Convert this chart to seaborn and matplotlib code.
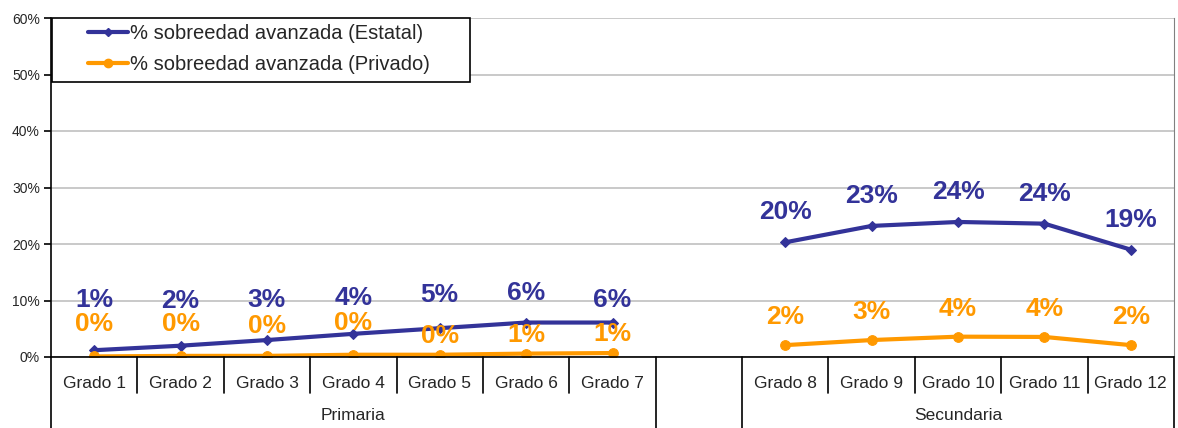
import pandas as pd
import matplotlib.pyplot as plt
import matplotlib.transforms as mtransforms
from matplotlib.lines import Line2D
from matplotlib.patches import Rectangle
import seaborn as sns

# --------------------------
# Data
# --------------------------
grados = ["Grado 1", "Grado 2", "Grado 3", "Grado 4", "Grado 5", "Grado 6", "Grado 7",
          "", "Grado 8", "Grado 9", "Grado 10", "Grado 11", "Grado 12"]
nivel = ["Primaria"] * 7 + [""] + ["Secundaria"] * 5
estatal = [1.2, 2.0, 3.0, 4.1, 5.1, 6.1, 6.1, None, 20.3, 23.2, 23.9, 23.6, 19.0]
privado = [0.1, 0.2, 0.2, 0.4, 0.4, 0.6, 0.7, None, 2.1, 3.0, 3.6, 3.55, 2.1]
series = {"% sobreedad avanzada (Estatal)": estatal,
          "% sobreedad avanzada (Privado)": privado}

rows = []
for name, vals in series.items():
    for i, v in enumerate(vals):
        if v is not None:
            rows.append({"pos": i, "grado": grados[i], "nivel": nivel[i], "serie": name, "valor": v})
df = pd.DataFrame(rows)

# --------------------------
# Style
# --------------------------
sns.set_style("white")
plt.rcParams["font.family"] = ["Liberation Sans", "DejaVu Sans"]

colors = {"% sobreedad avanzada (Estatal)": "#333399",
          "% sobreedad avanzada (Privado)": "#FF9900"}
markers = {"% sobreedad avanzada (Estatal)": ("D", 5),
           "% sobreedad avanzada (Privado)": ("o", 7)}
# label offsets above the point (pixels), placed by hand like the original
label_dy = {"% sobreedad avanzada (Estatal)": [50, 45, 40, 36, 33, 30, 23, 0, 30, 30, 30, 30, 30],
            "% sobreedad avanzada (Privado)": [32, 32, 30, 32, 19, 19, 19, 0, 28, 28, 28, 28, 28]}

fig = plt.figure(figsize=(11.78, 4.28), dpi=100)
ax = fig.add_axes([51 / 1178, (428 - 357) / 428, (1174 - 51) / 1178, (357 - 18) / 428])

for name in series:
    for lvl in ["Primaria", "Secundaria"]:
        sub = df[(df["serie"] == name) & (df["nivel"] == lvl)]
        m, ms = markers[name]
        sns.lineplot(data=sub, x="pos", y="valor", ax=ax, color=colors[name], lw=3,
                     marker=m, markersize=ms, markeredgecolor=colors[name], legend=False)
    for i, v in enumerate(series[name]):
        if v is None:
            continue
        ax.annotate(f"{v:.0f}%", (i, v), xytext=(0, label_dy[name][i] * 0.72),
                    textcoords="offset points", ha="center", va="center",
                    fontsize=19, fontweight="bold", color=colors[name])

ax.set_xlim(-0.5, len(grados) - 0.5)
ax.set_ylim(0, 60)
ax.set_yticks(range(0, 61, 10))
ax.set_yticklabels([f"{t}%" for t in range(0, 61, 10)], fontsize=10)
ax.yaxis.grid(True, color="#c0c0c0", lw=1.2)
ax.set_axisbelow(True)
ax.tick_params(axis="y", left=True, length=5, width=1.2, color="black", pad=3)
ax.set_xticks(range(len(grados)))
ax.set_xticklabels(grados, fontsize=12.5)
ax.tick_params(axis="x", length=0, pad=14)
ax.set_xlabel("")
ax.set_ylabel("")

ax.spines["top"].set_visible(False)
ax.spines["left"].set_color("black")
ax.spines["left"].set_linewidth(1.2)
ax.spines["bottom"].set_color("black")
ax.spines["bottom"].set_linewidth(1.2)
ax.spines["right"].set_color("#808080")

# category dividers below the axis
trans = mtransforms.blended_transform_factory(ax.transData, ax.transAxes)
inner_y = -(393 - 357) / 339
outer_y = -(428 - 357) / 339
for b in [i - 0.5 for i in range(len(grados) + 1)]:
    left_name = nivel[int(b - 0.5)] if b > 0 else None
    right_name = nivel[int(b + 0.5)] if b < len(grados) - 1 else None
    y_end = inner_y if left_name == right_name else outer_y
    ax.plot([b, b], [0, y_end], color="black", lw=1.2, transform=trans, clip_on=False)

for lvl in ["Primaria", "Secundaria"]:
    idx = [i for i, n in enumerate(nivel) if n == lvl]
    ax.text((idx[0] + idx[-1]) / 2, -(415 - 357) / 339, lvl, transform=trans,
            ha="center", va="center", fontsize=12.5)

# legend: white box like Excel's, entries drawn on top
ax.add_patch(Rectangle((52 / 1178, (428 - 82) / 428), (470 - 52) / 1178, 64 / 428,
                       transform=fig.transFigure, facecolor="white", edgecolor="black",
                       lw=1.2, zorder=4, clip_on=False))
handles = [Line2D([0], [0], color=colors[n], lw=3, marker=markers[n][0],
                  markersize=markers[n][1] - 1, markeredgecolor=colors[n]) for n in series]
leg = ax.legend(handles, list(series), loc="upper left",
                bbox_to_anchor=(88 / 1178, (428 - 24) / 428), bbox_transform=fig.transFigure,
                borderaxespad=0, borderpad=0, fontsize=14.5, frameon=False,
                handlelength=2.0, handletextpad=0.1, labelspacing=0.6)
leg.set_zorder(5)

fig.savefig("out.png", dpi=100)
